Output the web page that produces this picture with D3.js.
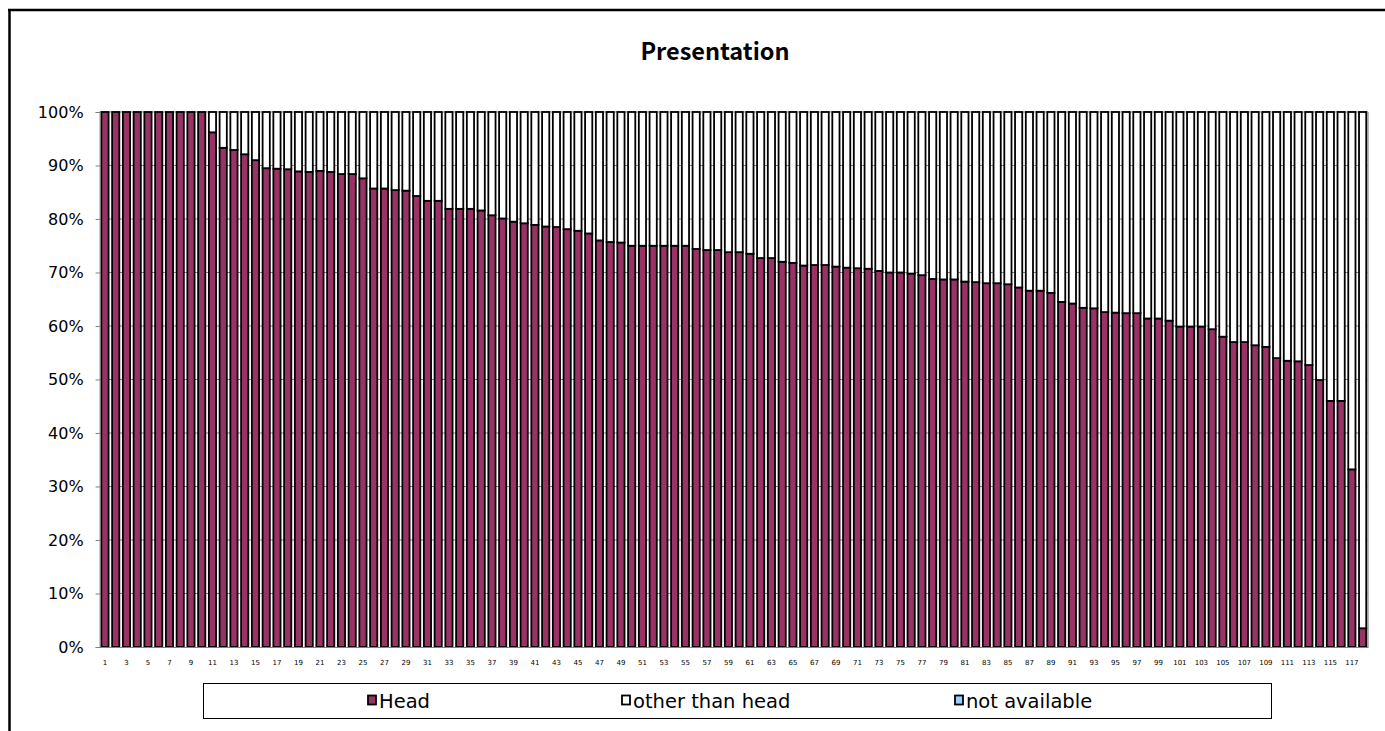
<!DOCTYPE html>
<html>
<head>
<meta charset="utf-8">
<script src="https://cdn.jsdelivr.net/npm/d3@7"></script>
<style>
  html, body { margin: 0; padding: 0; background: #fff; }
  svg { display: block; }
</style>
</head>
<body>
<svg id="chart" width="1385" height="731"></svg>
<script>
// ---- data ----
const categories = d3.range(1, 119).map(String);
const head = [
  100,100,100,100,100,100,100,100,100,100,
  96.2,93.3,92.9,92.1,91.0,89.5,89.4,89.3,88.9,88.8,
  89.0,88.8,88.4,88.4,87.6,85.7,85.7,85.4,85.3,84.3,
  83.4,83.4,81.9,81.9,81.9,81.6,80.7,80.1,79.5,79.2,
  78.9,78.6,78.5,78.1,77.8,77.3,76.0,75.7,75.6,75.0,
  75.0,75.0,75.0,75.0,75.0,74.4,74.2,74.2,73.8,73.8,
  73.5,72.7,72.7,72.0,71.8,71.3,71.4,71.4,71.1,70.9,
  70.8,70.7,70.3,70.0,70.0,69.8,69.5,68.8,68.7,68.7,
  68.3,68.2,68.0,68.0,67.8,67.2,66.6,66.6,66.2,64.5,
  64.2,63.4,63.3,62.6,62.5,62.4,62.4,61.4,61.4,61.0,
  59.9,59.9,59.9,59.4,58.0,57.0,57.0,56.4,56.1,54.0,
  53.5,53.4,52.7,49.9,46.0,46.0,33.2,3.5
];
const notAvailable = categories.map(() => 0);
const otherThanHead = head.map((h, i) => 100 - h - notAvailable[i]);
const seriesNames = ["Head", "other than head", "not available"];
const seriesColors = ["#993366", "#ffffff", "#99ccff"];
const yTicks = [0, 10, 20, 30, 40, 50, 60, 70, 80, 90, 100];
const title = "Presentation";

// ---- layout ----
const svg = d3.select("#chart");
const W = 1385, H = 731;
const plot = { left: 99.6, right: 1368, top: 112, bottom: 647 };
const font = "'DejaVu Sans', sans-serif";

// outer chart border (top + left visible)
svg.append("line").attr("x1", 8).attr("x2", W).attr("y1", 10).attr("y2", 10)
  .attr("stroke", "#000").attr("stroke-width", 2.5);
svg.append("line").attr("x1", 9.5).attr("x2", 9.5).attr("y1", 9).attr("y2", H)
  .attr("stroke", "#000").attr("stroke-width", 2.5);

// title
svg.append("text").attr("x", 715).attr("y", 60).attr("text-anchor", "middle")
  .attr("font-family", "'Noto Sans CJK JP', sans-serif").attr("font-weight", "bold").attr("font-size", 23.5)
  .text(title);

const x = d3.scaleBand().domain(categories).range([plot.left, plot.right]).paddingInner(0.33).paddingOuter(0.165);
const y = d3.scaleLinear().domain([0, 100]).range([plot.bottom, plot.top]);

// gridlines
svg.append("g").selectAll("line").data(yTicks.filter(t => t > 0)).join("line")
  .attr("x1", plot.left).attr("x2", plot.right)
  .attr("y1", d => y(d)).attr("y2", d => y(d))
  .attr("stroke", "#808080").attr("stroke-width", 1);

// plot right border
svg.append("line").attr("x1", plot.right).attr("x2", plot.right)
  .attr("y1", plot.top).attr("y2", plot.bottom).attr("stroke", "#a0a0a0").attr("stroke-width", 1.5);

// stacked bars
const rows = categories.map((c, i) => ({ cat: c, "Head": head[i], "other than head": otherThanHead[i], "not available": notAvailable[i] }));
const stack = d3.stack().keys(seriesNames)(rows);
svg.append("g").selectAll("g").data(stack).join("g")
  .attr("fill", (d, i) => seriesColors[i])
  .selectAll("rect").data(d => d.filter(s => s[1] - s[0] > 0)).join("rect")
  .attr("x", d => x(d.data.cat))
  .attr("width", x.bandwidth())
  .attr("y", d => y(d[1]))
  .attr("height", d => y(d[0]) - y(d[1]))
  .attr("stroke", "#000").attr("stroke-width", 1.8);

// y axis
const yAxis = svg.append("g").attr("transform", `translate(${plot.left},0)`)
  .call(d3.axisLeft(y).tickValues(yTicks).tickFormat(d => d + "%").tickSize(4).tickPadding(12));
yAxis.select(".domain").attr("stroke", "#808080");
yAxis.selectAll(".tick line").attr("stroke", "#808080");
yAxis.selectAll("text").attr("font-family", font).attr("font-size", 16).attr("fill", "#000");

// x axis
const xAxis = svg.append("g").attr("transform", `translate(0,${plot.bottom})`)
  .call(d3.axisBottom(x).tickValues(categories.filter((c, i) => i % 2 === 0)).tickSize(0).tickPadding(13));
xAxis.select(".domain").attr("stroke", "#808080");
xAxis.selectAll("text").attr("font-family", font).attr("font-size", 7).attr("fill", "#000");

// legend
const lg = svg.append("g");
lg.append("rect").attr("x", 203.5).attr("y", 683.5).attr("width", 1068).attr("height", 35)
  .attr("fill", "#fff").attr("stroke", "#000").attr("stroke-width", 1);
const legendX = [368, 622, 955];
seriesNames.forEach((n, i) => {
  lg.append("rect").attr("x", legendX[i]).attr("y", 695.5).attr("width", 8).attr("height", 9)
    .attr("fill", seriesColors[i]).attr("stroke", "#000").attr("stroke-width", 1.8);
  lg.append("text").attr("x", legendX[i] + 11).attr("y", 708)
    .attr("font-family", font).attr("font-size", 19.5).text(n);
});
</script>
</body>
</html>
